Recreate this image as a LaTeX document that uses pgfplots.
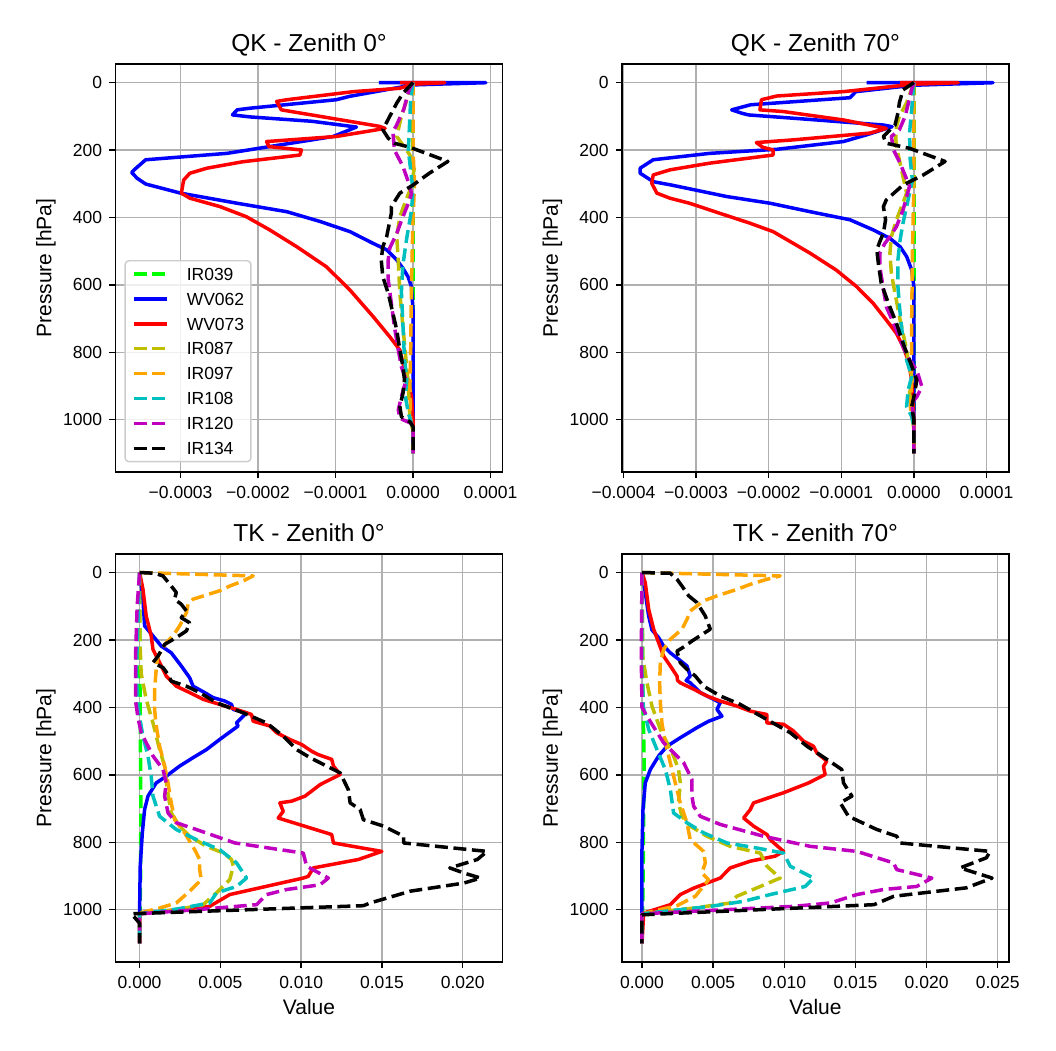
\documentclass[border=0pt]{standalone}
\usepackage{fontspec}
\setmainfont{Liberation Sans}
\usepackage{pgfplots}
\pgfplotsset{compat=1.18}
\definecolor{cIRa}{RGB}{0,255,0}
\definecolor{cY}{RGB}{191,191,0}
\definecolor{cO}{RGB}{255,165,0}
\definecolor{cC}{RGB}{0,191,191}
\definecolor{cM}{RGB}{191,0,191}
\definecolor{gridgray}{RGB}{176,176,176}
\definecolor{leggray}{RGB}{204,204,204}
\newcommand\ticksize{\fontsize{17.5bp}{20bp}\selectfont}
\newcommand\labelsize{\fontsize{21bp}{24bp}\selectfont}
\newcommand\titlesize{\fontsize{24.5bp}{28bp}\selectfont}
\tikzset{
 base/.style={line width=3.5bp, line join=round},
 dsh/.style={base, dash pattern=on 12.95bp off 5.6bp},
 s039/.style={dsh, draw=cIRa},
 s062/.style={base, draw=blue},
 s073/.style={base, draw=red},
 s087/.style={dsh, draw=cY},
 s097/.style={dsh, draw=cO},
 s108/.style={dsh, draw=cC},
 s120/.style={dsh, draw=cM},
 s134/.style={dsh, draw=black},
}
\pgfplotsset{
 panel/.style={
  scale only axis, width=387bp, height=408bp, anchor=south west,
  ymin=-55, ymax=1155, y dir=reverse,
  ytick={0,200,400,600,800,1000}, yticklabels={0,200,400,600,800,1000},
  grid=major, grid style={line width=1.4bp, gridgray},
  axis line style={line width=1.4bp},
  tick style={line width=1.4bp, black},
  major tick length=6.1bp, tick align=outside,
  xtick pos=left, ytick pos=left,
  tick label style={font=\ticksize},
  yticklabel style={anchor=east, inner sep=0pt, xshift=-7.2bp},
  xticklabel style={anchor=base, inner sep=0pt, yshift=-20.6bp},
  ylabel={Pressure [hPa]},
  ylabel style={at={(axis description cs:-0.1660,0.5)}, anchor=base, font=\labelsize},
  xlabel style={at={(axis description cs:0.5,-0.1275)}, anchor=base, font=\labelsize},
  title style={at={(axis description cs:0.5,1.0152)}, anchor=base, font=\titlesize},
  every axis plot/.append style={no markers},
  legend image code/.code={\draw[#1] (0bp,0bp) -- (33bp,0bp);},
 }
}
\begin{document}
\begin{tikzpicture}
\useasboundingbox (0,0) rectangle (1056bp,1051bp);
% ---------------- QK zenith 0
\begin{axis}[panel, at={(115.5bp,579bp)}, xmin=-3.84, xmax=1.155,
 xtick={-3,-2,-1,0,1}, xticklabels={−0.0003,−0.0002,−0.0001,0.0000,0.0001},
 title={QK - Zenith 0°},
 legend cell align=left,
 legend style={at={(axis description cs:0.0232,0.0238)}, anchor=south west,
  font=\ticksize, draw=leggray, line width=1.4bp, rounded corners=3.5bp,
  fill=white, fill opacity=0.8, text opacity=1, draw opacity=1,
  inner xsep=6.7bp, inner ysep=7bp, row sep=12.4bp, column sep=18.4bp,
  nodes={inner sep=0pt, text height=12.5bp, text depth=0pt}}]
\addplot[s039] table {
0 0
0 1100
};\addlegendentry{IR039}
\addplot[s062] table {
-0.44 0
0.94 0.5
0.0 7
-0.82 41
-0.99 51
-2.1 76
-2.27 81
-2.33 96
-2.1 102
-1.3 115
-0.73 132
-1.03 160
-2.40 210
-3.45 229
-3.60 259
-3.63 267
-3.56 284
-3.45 301
-3.0 328
-2.27 358
-1.63 383
-1.2 412
-0.815 442
-0.515 477
-0.34 496
-0.21 526
-0.13 551
-0.064 576
-0.02 605
0 674
0 1100
};\addlegendentry{WV062}
\addplot[s073] table {
-0.17 0
0.41 0.5
0.0 5
-0.17 17
-0.77 27
-1.63 51
-1.76 56
-1.70 81
-0.43 130
-0.36 136
-0.99 160
-1.89 175
-1.86 190
-1.44 200
-1.46 215
-2.2 235
-2.66 254
-2.88 269
-2.96 289
-2.99 328
-2.88 343
-2.49 368
-2.15 398
-1.85 437
-1.5 487
-1.12 546
-0.815 615
-0.515 694
-0.3 754
-0.17 793
-0.13 833
-0.064 882
-0.02 932
0 1000
0 1100
};\addlegendentry{WV073}
\addplot[s087] table {
0 0
-0.05 30
-0.15 100
-0.21 160
-0.04 215
0.02 249
-0.02 308
-0.09 348
-0.17 398
-0.21 457
-0.19 530
-0.17 625
-0.13 724
-0.09 823
-0.06 900
-0.04 1000
0 1030
0 1100
};\addlegendentry{IR087}
\addplot[s097] table {
0 0
0 200
0.02 300
0 400
-0.02 600
-0.03 800
-0.04 900
-0.03 1000
0 1030
0 1100
};\addlegendentry{IR097}
\addplot[s108] table {
0 0
-0.03 50
-0.05 150
-0.06 200
-0.02 280
0 320
-0.02 380
-0.08 460
-0.13 540
-0.15 620
-0.13 720
-0.11 820
-0.08 880
-0.1 930
-0.06 980
-0.02 1010
0 1030
0 1100
};\addlegendentry{IR108}
\addplot[s120] table {
0 0
-0.05 20
-0.12 80
-0.22 130
-0.26 145
-0.24 200
-0.13 249
-0.04 308
-0.02 330
-0.06 358
-0.13 398
-0.21 447
-0.3 491
-0.32 526
-0.32 585
-0.28 655
-0.24 724
-0.19 793
-0.15 843
-0.09 882
-0.15 932
-0.19 971
-0.17 996
-0.02 1011
0 1030
0 1100
};\addlegendentry{IR120}
\addplot[s134] table {
0 0
-0.13 32
-0.21 61
-0.3 100
-0.39 140
-0.32 165
-0.24 180
-0.04 192
0.45 234
0.21 269
0 304
-0.17 328
-0.28 368
-0.28 388
-0.34 457
-0.39 487
-0.41 526
-0.39 576
-0.32 625
-0.26 684
-0.21 734
-0.17 793
-0.13 843
-0.11 882
-0.13 922
-0.17 960
-0.15 991
-0.04 1006
0 1020
0 1100
};\addlegendentry{IR134}
\end{axis}
% ---------------- QK zenith 70
\begin{axis}[panel, at={(622bp,579bp)}, xmin=-4.02, xmax=1.31,
 xtick={-4,-3,-2,-1,0,1}, xticklabels={−0.0004,−0.0003,−0.0002,−0.0001,0.0000,0.0001},
 title={QK - Zenith 70°}]
\addplot[s039] table {
0 0
0 1100
};
\addplot[s062] table {
-0.65 0
1.09 0.5
0 8
-0.8 27
-0.88 45
-2.25 66
-2.51 81
-2.37 91
-2.28 96
-1.4 110
-0.42 126
-0.3 131
-0.65 155
-0.97 175
-1.89 198
-2.81 210
-3.59 229
-3.77 254
-3.77 269
-3.59 294
-3.34 304
-2.58 338
-1.98 358
-1.43 383
-0.88 407
-0.56 437
-0.33 462
-0.19 487
-0.1 516
-0.03 556
0 605
0 1100
};
\addplot[s073] table {
-0.19 0
0.61 0.5
0 5
-0.97 27
-1.89 40
-2.1 51
-2.12 81
-1.8 86
-0.97 111
-0.38 136
-0.61 150
-1.66 170
-2.17 178
-2.08 192
-1.94 200
-1.94 215
-2.81 239
-3.36 259
-3.59 274
-3.61 299
-3.54 328
-3.36 343
-3.09 358
-2.67 388
-2.26 417
-1.94 442
-1.66 477
-1.43 506
-1.07 556
-0.79 605
-0.56 655
-0.38 704
-0.24 744
-0.15 783
-0.08 823
-0.03 882
0 1000
0 1100
};
\addplot[s087] table {
0 0
-0.1 60
-0.2 100
-0.24 130
-0.25 170
-0.22 210
-0.1 328
-0.24 407
-0.31 457
-0.33 506
-0.31 566
-0.26 625
-0.19 704
-0.12 773
-0.06 843
-0.02 880
-0.06 922
0 1000
0 1100
};
\addplot[s097] table {
0 0
0 300
-0.02 500
-0.03 700
-0.03 880
-0.05 960
-0.02 1000
0 1030
0 1100
};
\addplot[s108] table {
0 0
-0.03 80
-0.06 150
-0.05 230
-0.02 290
-0.08 348
-0.15 417
-0.19 467
-0.22 526
-0.22 605
-0.19 684
-0.15 763
-0.1 823
-0.03 872
-0.08 912
-0.1 961
-0.03 991
0 1020
0 1100
};
\addplot[s120] table {
0 0
-0.03 20
-0.12 100
-0.2 140
-0.31 160
-0.28 200
-0.19 239
-0.06 308
-0.15 378
-0.24 427
-0.33 457
-0.40 477
-0.47 506
-0.47 546
-0.38 665
-0.26 724
-0.15 783
-0.06 823
0.04 853
0.11 902
0.04 932
-0.03 951
0 1000
0 1100
};
\addplot[s134] table {
0 0
-0.15 22
-0.2 60
-0.22 91
-0.26 126
-0.42 160
-0.38 180
-0.06 195
0.43 234
0.13 274
-0.15 304
-0.38 348
-0.42 368
-0.39 407
-0.42 447
-0.47 472
-0.51 496
-0.49 536
-0.45 595
-0.35 655
-0.24 714
-0.15 773
-0.06 823
0.04 882
0.01 922
-0.03 961
0 1000
0 1100
};
\end{axis}
% ---------------- TK zenith 0
\begin{axis}[panel, at={(115.5bp,89bp)}, xmin=-1.49, xmax=22.46,
 xtick={0,5,10,15,20}, xticklabels={0.000,0.005,0.010,0.015,0.020},
 title={TK - Zenith 0°}, xlabel={Value}]
\addplot[s039] table {
0 0
0.02 300
0.05 500
0.08 700
0.06 900
0.03 1000
0 1015
0 1100
};
\addplot[s062] table {
0 0
0.21 79
0.31 158
0.83 188
1.34 218
1.96 238
2.58 277
3.1 312
3.31 337
4.03 356
4.55 371
5.27 381
5.69 391
5.79 406
6.62 416
6.0 446
6.1 455
4.96 495
4.14 525
3.31 549
2.48 574
1.65 604
1.03 624
0.52 663
0.31 703
0.17 772
0.04 871
0 1010
0 1100
};
\addplot[s073] table {
0 0
0.21 50
0.41 129
0.72 188
0.83 228
1.24 267
1.65 307
2.27 337
3.1 356
3.93 376
4.96 391
6.0 406
6.93 421
7.03 441
8.06 455
8.48 475
9.3 495
10.03 510
10.65 530
11.06 540
11.89 554
12.0 574
12.41 599
11.17 629
10.24 663
9.41 678
8.68 683
8.89 708
8.58 728
11.89 777
12.0 802
14.99 827
13.54 851
10.75 876
10.44 901
10.13 906
5.58 955
4.34 990
2.27 1000
0 1012
0 1100
};
\addplot[s087] table {
0 0
0.02 200
0.1 300
0.21 327
0.41 376
0.83 446
1.24 525
1.55 574
1.7 640
1.96 713
2.48 752
3.1 782
4.14 812
5.2 832
5.69 851
5.8 871
5.58 911
4.76 950
3.93 985
2.27 1000
0 1012
0 1100
};
\addplot[s097] table {
0 0
7.03 10
6.41 25
5.58 40
4.96 54
3.31 79
3.0 94
2.9 119
2.48 158
2.07 188
1.65 208
1.14 248
1.03 287
0.93 346
0.93 406
1.03 455
1.24 515
1.55 574
1.76 624
1.96 683
2.17 733
2.79 772
3.41 822
3.72 851
3.72 881
3.82 911
3.1 945
2.27 980
1.24 995
0 1010
0 1100
};
\addplot[s108] table {
0 0
-0.1 150
-0.2 300
-0.1 400
0 430
0.21 485
0.52 544
0.72 604
0.83 663
1.24 723
2.27 762
3.51 792
4.96 822
6.0 861
6.62 906
6.0 931
4.76 950
4.34 980
2.3 998
0 1012
0 1100
};
\addplot[s120] table {
0 0
-0.15 100
-0.25 250
-0.25 380
-0.1 430
0.1 475
0.83 544
1.45 584
1.65 624
1.55 663
1.76 713
2.27 742
3.51 762
5.9 802
10.13 832
10.34 871
11.68 906
11.17 926
9.1 940
7.86 955
7.24 985
3.5 1000
0 1012
0 1100
};
\addplot[s134] table {
0 0
0.93 2
1.45 10
1.96 40
2.27 59
2.17 79
2.58 94
2.9 114
2.58 134
3.1 149
2.9 173
2.27 193
1.55 213
1.14 248
0.83 267
1.45 282
1.76 302
1.96 322
2.9 337
3.72 356
4.76 386
5.58 401
6.41 416
7.86 446
8.89 485
9.72 525
10.55 549
11.58 574
12.41 594
12.92 644
13.03 683
13.65 703
13.85 733
15.1 752
16.34 782
16.34 802
21.5 827
20.9 851
19.2 876
20.06 891
21.1 906
20.06 921
16.75 945
14.27 980
13.85 988
-0.5 1012
0 1040
0 1100
};
\end{axis}
% ---------------- TK zenith 70
\begin{axis}[panel, at={(622bp,89bp)}, xmin=-1.404, xmax=25.79,
 xtick={0,5,10,15,20,25}, xticklabels={0.000,0.005,0.010,0.015,0.020,0.025},
 title={TK - Zenith 70°}, xlabel={Value}]
\addplot[s039] table {
0 0
0.05 300
0.1 450
0.15 550
0.12 700
0.08 900
0.05 1000
0 1015
0 1100
};
\addplot[s062] table {
0 0
0.23 59
0.47 129
0.7 170
1.17 193
1.52 218
1.99 238
2.57 257
3.16 277
3.39 307
3.1 320
3.39 327
4.1 356
4.8 371
5.5 386
5.27 406
5.62 426
4.68 441
3.86 460
2.69 490
1.76 515
1.17 544
0.59 584
0.23 624
0.07 703
0 822
0 1100
};
\addplot[s073] table {
0 0
0.23 30
0.47 109
0.82 168
1.17 208
1.52 248
1.99 277
2.46 307
2.5 320
2.69 327
3.63 346
4.56 366
5.5 381
6.67 396
7.61 411
8.78 421
8.78 446
9.95 450
10.65 470
11.35 500
12.05 515
12.29 535
12.99 559
12.75 575
12.87 599
11.7 624
9.95 653
9.25 663
7.84 683
7.61 703
7.14 728
7.84 752
8.78 777
9.0 792
9.95 827
9.36 841
7.61 856
6.2 876
5.5 906
4.56 921
3.63 936
2.69 955
1.99 985
0.12 1010
0 1100
};
\addplot[s087] table {
0 0
0.05 250
0.35 327
0.7 396
1.29 465
2.22 544
2.57 584
2.69 624
2.57 683
2.81 723
3.39 752
4.56 782
6.2 812
8.31 832
8.78 871
9.71 906
8.31 931
6.67 960
6.2 980
3.63 995
0 1012
0 1100
};
\addplot[s097] table {
0 0
9.71 10
8.78 20
7.61 35
6.67 50
5.27 69
4.33 84
3.39 114
3.16 139
2.81 168
1.99 198
1.52 228
1.29 267
1.24 327
1.29 386
1.4 446
1.64 505
1.99 564
2.34 624
2.69 683
3.16 742
3.39 792
4.33 827
4.45 861
4.21 891
4.68 911
3.75 960
2.46 988
0 1012
0 1100
};
\addplot[s108] table {
0 0
0 300
0.1 400
0.47 465
1.05 525
1.64 584
1.99 643
2.22 713
3.16 742
4.33 772
5.97 802
8.08 817
9.95 832
10.42 871
12.06 906
11.47 931
9.01 955
7.14 975
4.8 990
0 1012
0 1100
};
\addplot[s120] table {
0 0
-0.05 250
0 400
0.35 426
1.52 505
2.93 564
3.51 614
3.51 663
3.63 693
4.1 723
5.5 747
8.54 782
11.82 812
15.1 827
17.67 861
17.9 881
20.37 906
19.3 931
16.97 940
15.1 955
13.23 980
10.65 990
0 1012
0 1100
};
\addplot[s134] table {
0 0
1.99 2
2.46 20
2.81 40
3.28 69
3.86 89
4.45 129
4.8 168
3.51 203
3.04 218
2.46 233
2.69 267
3.16 287
3.75 307
4.33 337
5.5 366
6.9 391
8.78 436
10.42 475
11.59 515
12.99 554
14.04 584
14.16 624
14.75 663
13.93 683
14.51 723
16.5 762
17.9 782
18.14 802
24.46 827
24.2 846
22.35 876
24.6 906
22.8 935
17.7 960
16.3 985
0 1015
0 1100
};
\end{axis}
\end{tikzpicture}
\end{document}
